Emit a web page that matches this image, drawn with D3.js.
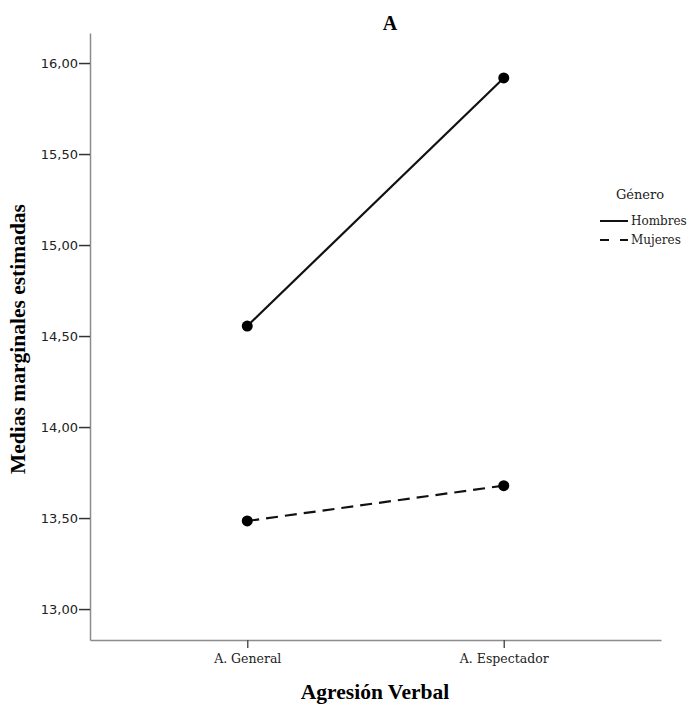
<!DOCTYPE html>
<html>
<head>
<meta charset="utf-8">
<script src="https://cdn.jsdelivr.net/npm/d3@7"></script>
<style>
  body { margin: 0; background: #fff; }
</style>
</head>
<body>
<div class="canvas"></div>
<script>
// Data
const categories = ['A. General', 'A. Espectador'];
const hombres = [14.555, 15.918];
const mujeres = [13.484, 13.678];
const yTicks = [13.0, 13.5, 14.0, 14.5, 15.0, 15.5, 16.0];
const seriesNames = ['Hombres', 'Mujeres'];

const width = 693, height = 707;
const plot = { left: 90, right: 661, top: 33, bottom: 640 };

const svg = d3.select('.canvas')
  .append('svg')
  .attr('width', width)
  .attr('height', height);

const x = d3.scalePoint()
  .domain(categories)
  .range([plot.left, plot.right])
  .padding(0.613);

const y = d3.scaleLinear()
  .domain([12.83, 16.165])
  .range([plot.bottom, plot.top]);

// Axes
const yAxis = svg.append('g')
  .attr('transform', `translate(${plot.left},0)`)
  .call(d3.axisLeft(y).tickValues(yTicks).tickSize(11).tickSizeOuter(0)
    .tickFormat(d => d3.format('.2f')(d).replace('.', ',')));
yAxis.select('.domain').attr('stroke', '#8c8c8c').attr('stroke-width', 1.5);
yAxis.selectAll('.tick line').attr('stroke', '#333').attr('stroke-width', 1.5);
yAxis.selectAll('.tick text')
  .attr('font-family', 'DejaVu Sans, sans-serif')
  .attr('font-size', 13)
  .attr('fill', '#222')
  .attr('x', -12);

const xAxis = svg.append('g')
  .attr('transform', `translate(0,${plot.bottom})`)
  .call(d3.axisBottom(x).tickSize(8).tickSizeOuter(0));
xAxis.select('.domain').attr('stroke', '#8c8c8c').attr('stroke-width', 1.5);
xAxis.selectAll('.tick line').attr('stroke', '#555').attr('stroke-width', 1.5);
xAxis.selectAll('.tick text')
  .attr('font-family', 'DejaVu Serif, serif')
  .attr('font-size', 12.5)
  .attr('fill', '#222')
  .attr('y', 14);

// Lines
const line = d3.line()
  .x((d, i) => x(categories[i]))
  .y(d => y(d));

const series = [
  { name: seriesNames[0], values: hombres, dash: null },
  { name: seriesNames[1], values: mujeres, dash: '12,7' }
];

series.forEach(s => {
  svg.append('path')
    .datum(s.values)
    .attr('d', line)
    .attr('fill', 'none')
    .attr('stroke', '#111')
    .attr('stroke-width', 2.2)
    .attr('stroke-dasharray', s.dash);

  svg.selectAll(null)
    .data(s.values)
    .enter()
    .append('circle')
    .attr('cx', (d, i) => x(categories[i]))
    .attr('cy', d => y(d))
    .attr('r', 5.5)
    .attr('fill', '#000');
});

// Titles
svg.append('text')
  .attr('x', 390).attr('y', 30)
  .attr('text-anchor', 'middle')
  .attr('font-family', 'Liberation Serif, serif')
  .attr('font-weight', 'bold')
  .attr('font-size', 20)
  .text('A');

svg.append('text')
  .attr('x', 375).attr('y', 699)
  .attr('text-anchor', 'middle')
  .attr('font-family', 'Liberation Serif, serif')
  .attr('font-weight', 'bold')
  .attr('font-size', 21.5)
  .text('Agresión Verbal');

svg.append('text')
  .attr('transform', 'translate(25,339) rotate(-90)')
  .attr('text-anchor', 'middle')
  .attr('font-family', 'Liberation Serif, serif')
  .attr('font-weight', 'bold')
  .attr('font-size', 21.5)
  .text('Medias marginales estimadas');

// Legend
const legend = svg.append('g').attr('transform', 'translate(600,0)');
legend.append('text')
  .attr('x', 40).attr('y', 199)
  .attr('text-anchor', 'middle')
  .attr('font-family', 'DejaVu Serif, serif')
  .attr('font-size', 13)
  .attr('fill', '#222')
  .text('Género');

series.forEach((s, i) => {
  const yy = 221 + i * 19;
  legend.append('line')
    .attr('x1', 0).attr('x2', 28)
    .attr('y1', yy).attr('y2', yy)
    .attr('stroke', '#111')
    .attr('stroke-width', 2)
    .attr('stroke-dasharray', s.dash ? '9,11' : null);
  legend.append('text')
    .attr('x', 31).attr('y', yy + 4)
    .attr('font-family', 'DejaVu Serif, serif')
    .attr('font-size', 12)
    .attr('fill', '#222')
    .text(s.name);
});
</script>
</body>
</html>
